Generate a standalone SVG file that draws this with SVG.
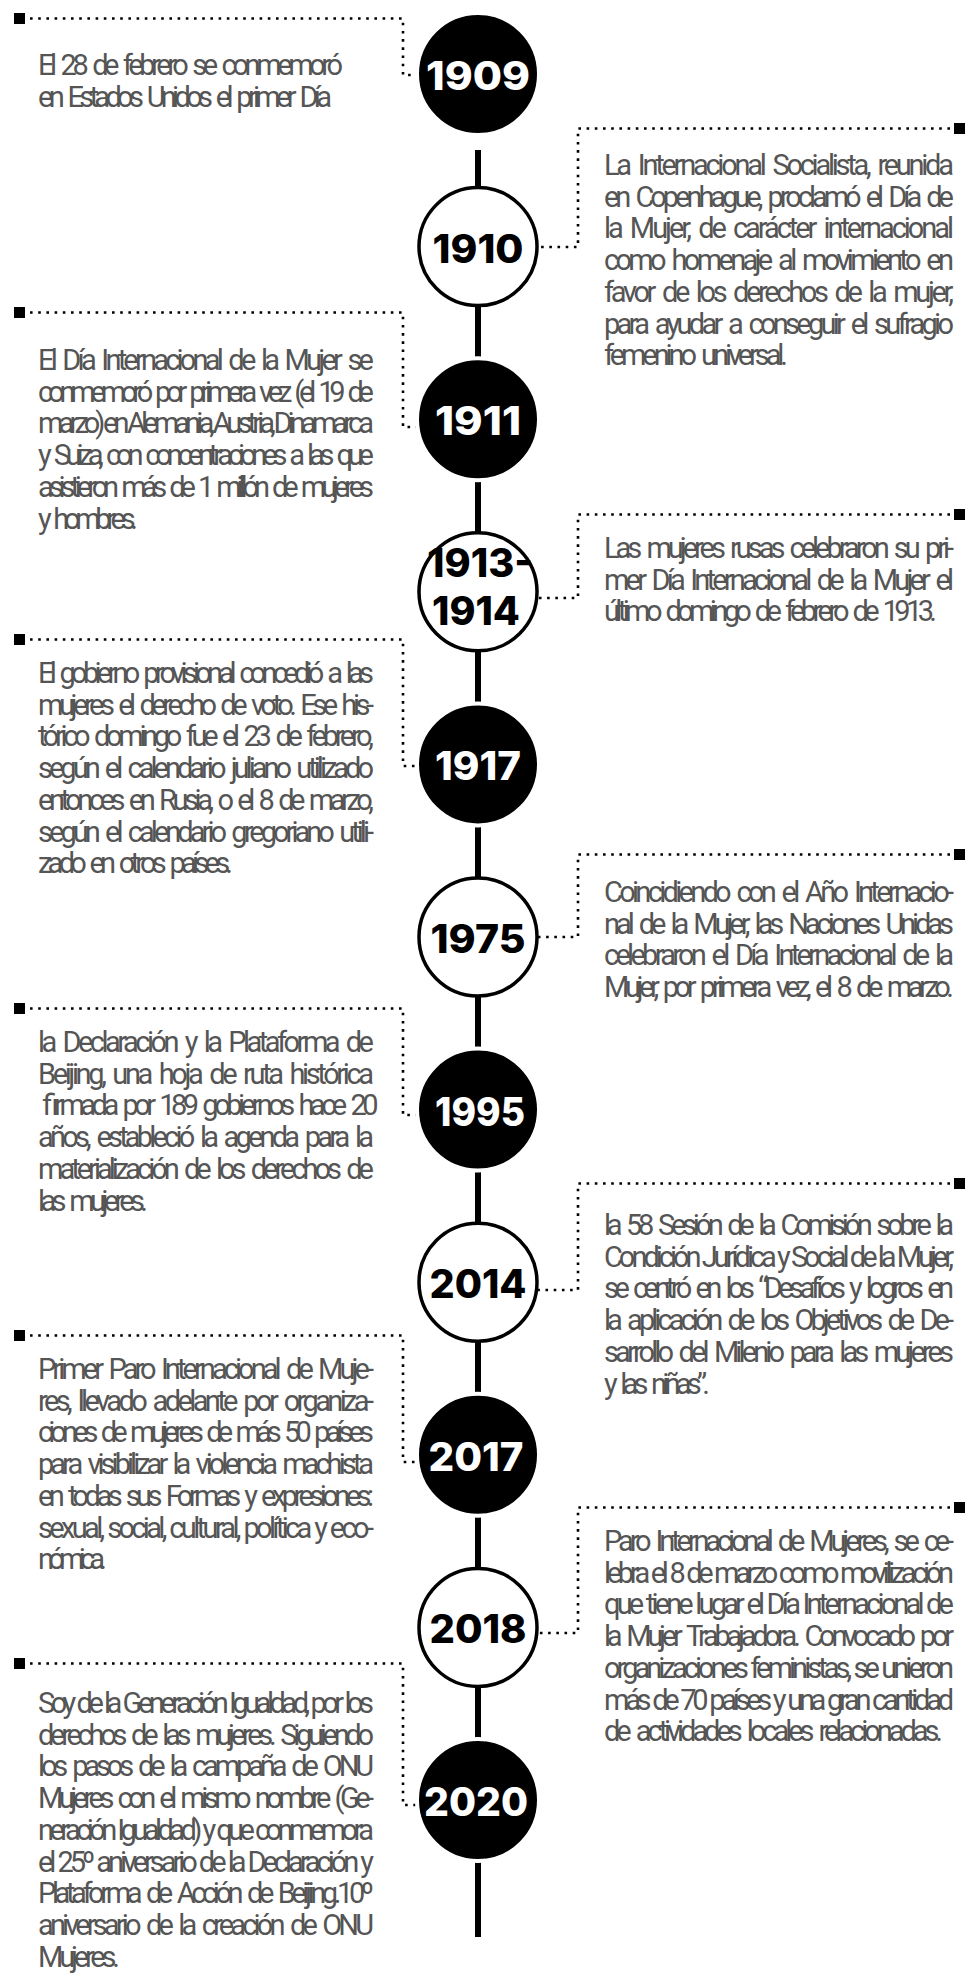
<svg xmlns="http://www.w3.org/2000/svg" width="965" height="1974" viewBox="0 0 965 1974">
<style>
  .bg{fill:#ffffff}
  .tl{stroke:#000;stroke-width:6;fill:none}
  .dot{stroke:#000;stroke-width:2.6;stroke-dasharray:2.6 5.6;fill:none}
  .sq{fill:#000}
  .cb{fill:#000;stroke:#fff;stroke-width:4}
  .cw{fill:#fff;stroke:#000;stroke-width:3.5}
  .yb{font-family:Inter,"Noto Sans","Liberation Sans",sans-serif;font-weight:800;font-size:39px;fill:#fff;text-anchor:middle}
  .yw{font-family:Inter,"Noto Sans","Liberation Sans",sans-serif;font-weight:800;font-size:39px;fill:#000;text-anchor:middle}
  .tx{font-family:Roboto,"Liberation Sans",sans-serif;font-weight:400;font-size:29px;word-spacing:5px;fill:#555}
</style>
<rect class="bg" x="0" y="0" width="965" height="1974"/>

<g id="connectors">
  <line class="tl" x1="478" y1="150" x2="478" y2="1742"/>
  <line class="tl" x1="478" y1="1862" x2="478" y2="1937"/>
  <rect class="sq" x="14" y="13" width="11" height="11"/>
  <path class="dot" d="M30,18.5 H403 V75 H419"/>
  <rect class="sq" x="14" y="307" width="11" height="11"/>
  <path class="dot" d="M30,312.5 H403 V427 H419"/>
  <rect class="sq" x="14" y="634" width="11" height="11"/>
  <path class="dot" d="M30,639.5 H403 V766 H419"/>
  <rect class="sq" x="14" y="1003" width="11" height="11"/>
  <path class="dot" d="M30,1008.5 H403 V1115 H419"/>
  <rect class="sq" x="14" y="1330" width="11" height="11"/>
  <path class="dot" d="M30,1335.5 H403 V1462 H419"/>
  <rect class="sq" x="14" y="1658" width="11" height="11"/>
  <path class="dot" d="M30,1663.5 H403 V1805 H419"/>
  <rect class="sq" x="954" y="123" width="11" height="11"/>
  <path class="dot" d="M950,128.5 H578 V247 H537"/>
  <rect class="sq" x="954" y="509" width="11" height="11"/>
  <path class="dot" d="M950,514.5 H578 V598 H537"/>
  <rect class="sq" x="954" y="849" width="11" height="11"/>
  <path class="dot" d="M950,854.5 H578 V937 H537"/>
  <rect class="sq" x="954" y="1178" width="11" height="11"/>
  <path class="dot" d="M950,1183.5 H578 V1290 H537"/>
  <rect class="sq" x="954" y="1502" width="11" height="11"/>
  <path class="dot" d="M950,1507.5 H578 V1633 H537"/>
</g>

<g id="node-1909">
  <circle class="cb" cx="478" cy="74" r="61"/>
  <text class="yb" x="478" y="90" textLength="104" lengthAdjust="spacingAndGlyphs">1909</text>
  <text class="tx" lengthAdjust="spacingAndGlyphs">
    <tspan x="38" y="75" textLength="305">El 28 de febrero se conmemoró</tspan>
    <tspan x="38" y="106.7" textLength="294">en Estados Unidos el primer Día</tspan>
  </text>
</g>

<g id="node-1910">
  <circle class="cw" cx="478" cy="246.6" r="59"/>
  <text class="yw" x="478" y="262.6" textLength="91" lengthAdjust="spacingAndGlyphs">1910</text>
  <text class="tx" lengthAdjust="spacingAndGlyphs">
    <tspan x="604" y="175" textLength="350">La Internacional Socialista, reunida</tspan>
    <tspan x="604" y="206.7" textLength="350">en Copenhague, proclamó el Día de</tspan>
    <tspan x="604" y="238.4" textLength="350">la Mujer, de carácter internacional</tspan>
    <tspan x="604" y="270.1" textLength="350">como homenaje al movimiento en</tspan>
    <tspan x="604" y="301.8" textLength="350">favor de los derechos de la mujer,</tspan>
    <tspan x="604" y="333.5" textLength="350">para ayudar a conseguir el sufragio</tspan>
    <tspan x="604" y="365.2" textLength="184">femenino universal.</tspan>
  </text>
</g>

<g id="node-1911">
  <circle class="cb" cx="478" cy="419.2" r="61"/>
  <text class="yb" x="478" y="435.2" textLength="86" lengthAdjust="spacingAndGlyphs">1911</text>
  <text class="tx" lengthAdjust="spacingAndGlyphs">
    <tspan x="38" y="370" textLength="336">El Día Internacional de la Mujer se</tspan>
    <tspan x="38" y="401.7" textLength="336">conmemoró por primera vez (el 19 de</tspan>
    <tspan x="38" y="433.4" textLength="336" style="word-spacing:0">marzo) en Alemania, Austria, Dinamarca</tspan>
    <tspan x="38" y="465.1" textLength="336">y Suiza, con concentraciones a las que</tspan>
    <tspan x="38" y="496.8" textLength="336">asistieron más de 1 millón de mujeres</tspan>
    <tspan x="38" y="528.5" textLength="100">y hombres.</tspan>
  </text>
</g>

<g id="node-1913-1914">
  <circle class="cw" cx="478" cy="591.8" r="59"/>
  <text class="yw" x="480" y="577" textLength="106" lengthAdjust="spacingAndGlyphs">1913-</text>
  <text class="yw" x="476" y="625" textLength="88" lengthAdjust="spacingAndGlyphs">1914</text>
  <text class="tx" lengthAdjust="spacingAndGlyphs">
    <tspan x="604" y="558" textLength="350">Las mujeres rusas celebraron su pri-</tspan>
    <tspan x="604" y="589.7" textLength="350">mer Día Internacional de la Mujer el</tspan>
    <tspan x="604" y="621.4" textLength="333">último domingo de febrero de 1913.</tspan>
  </text>
</g>

<g id="node-1917">
  <circle class="cb" cx="478" cy="764.4" r="61"/>
  <text class="yb" x="478" y="780.4" textLength="86" lengthAdjust="spacingAndGlyphs">1917</text>
  <text class="tx" lengthAdjust="spacingAndGlyphs">
    <tspan x="38" y="683" textLength="336">El gobierno provisional concedió a las</tspan>
    <tspan x="38" y="714.7" textLength="336">mujeres el derecho de voto. Ese his-</tspan>
    <tspan x="38" y="746.4" textLength="336">tórico domingo fue el 23 de febrero,</tspan>
    <tspan x="38" y="778.1" textLength="336">según el calendario juliano utilizado</tspan>
    <tspan x="38" y="809.8" textLength="336">entonces en Rusia, o el 8 de marzo,</tspan>
    <tspan x="38" y="841.5" textLength="336">según el calendario gregoriano utili-</tspan>
    <tspan x="38" y="873.2" textLength="195">zado en otros países.</tspan>
  </text>
</g>

<g id="node-1975">
  <circle class="cw" cx="478" cy="937" r="59"/>
  <text class="yw" x="478" y="953" textLength="95" lengthAdjust="spacingAndGlyphs">1975</text>
  <text class="tx" lengthAdjust="spacingAndGlyphs">
    <tspan x="604" y="902" textLength="350">Coincidiendo con el Año Internacio-</tspan>
    <tspan x="604" y="933.7" textLength="350">nal de la Mujer, las Naciones Unidas</tspan>
    <tspan x="604" y="965.4" textLength="350">celebraron el Día Internacional de la</tspan>
    <tspan x="604" y="997.1" textLength="350">Mujer, por primera vez, el 8 de marzo.</tspan>
  </text>
</g>

<g id="node-1995">
  <circle class="cb" cx="478" cy="1109.6" r="61"/>
  <text class="yb" x="480" y="1125.6" textLength="90" lengthAdjust="spacingAndGlyphs">1995</text>
  <text class="tx" lengthAdjust="spacingAndGlyphs">
    <tspan x="38" y="1052" textLength="336">la Declaración y la Plataforma de</tspan>
    <tspan x="38" y="1083.7" textLength="336">Beijing, una hoja de ruta histórica</tspan>
    <tspan x="38" y="1115.4" textLength="336">firmada por 189 gobiernos hace 20</tspan>
    <tspan x="38" y="1147.1" textLength="336">años, estableció la agenda para la</tspan>
    <tspan x="38" y="1178.8" textLength="336">materialización de los derechos de</tspan>
    <tspan x="38" y="1210.5" textLength="110">las mujeres.</tspan>
  </text>
</g>

<g id="node-2014">
  <circle class="cw" cx="478" cy="1282.2" r="59"/>
  <text class="yw" x="478" y="1298.2" textLength="97" lengthAdjust="spacingAndGlyphs">2014</text>
  <text class="tx" lengthAdjust="spacingAndGlyphs">
    <tspan x="604" y="1235" textLength="350">la 58 Sesión de la Comisión sobre la</tspan>
    <tspan x="604" y="1266.7" textLength="350" style="word-spacing:1px">Condición Jurídica y Social de la Mujer,</tspan>
    <tspan x="604" y="1298.4" textLength="350">se centró en los “Desafíos y logros en</tspan>
    <tspan x="604" y="1330.1" textLength="350">la aplicación de los Objetivos de De-</tspan>
    <tspan x="604" y="1361.8" textLength="350">sarrollo del Milenio para las mujeres</tspan>
    <tspan x="604" y="1393.5" textLength="106">y las niñas”.</tspan>
  </text>
</g>

<g id="node-2017">
  <circle class="cb" cx="478" cy="1454.8" r="61"/>
  <text class="yb" x="476" y="1470.8" textLength="95" lengthAdjust="spacingAndGlyphs">2017</text>
  <text class="tx" lengthAdjust="spacingAndGlyphs">
    <tspan x="38" y="1379" textLength="336">Primer Paro Internacional de Muje-</tspan>
    <tspan x="38" y="1410.7" textLength="336">res, llevado adelante por organiza-</tspan>
    <tspan x="38" y="1442.4" textLength="336">ciones de mujeres de más 50 países</tspan>
    <tspan x="38" y="1474.1" textLength="336">para visibilizar la violencia machista</tspan>
    <tspan x="38" y="1505.8" textLength="336">en todas sus Formas y expresiones:</tspan>
    <tspan x="38" y="1537.5" textLength="336" style="word-spacing:2px">sexual, social, cultural, política y eco-</tspan>
    <tspan x="38" y="1569.2" textLength="69">nómica.</tspan>
  </text>
</g>

<g id="node-2018">
  <circle class="cw" cx="478" cy="1627.4" r="59"/>
  <text class="yw" x="478" y="1643.4" textLength="97" lengthAdjust="spacingAndGlyphs">2018</text>
  <text class="tx" lengthAdjust="spacingAndGlyphs">
    <tspan x="604" y="1551" textLength="350">Paro Internacional de Mujeres, se ce-</tspan>
    <tspan x="604" y="1582.7" textLength="350" style="word-spacing:2px">lebra el 8 de marzo como movilización</tspan>
    <tspan x="604" y="1614.4" textLength="350" style="word-spacing:2px">que tiene lugar el Día Internacional de</tspan>
    <tspan x="604" y="1646.1" textLength="350">la Mujer Trabajadora. Convocado por</tspan>
    <tspan x="604" y="1677.8" textLength="350" style="word-spacing:2px">organizaciones feministas, se unieron</tspan>
    <tspan x="604" y="1709.5" textLength="350" style="word-spacing:2px">más de 70 países y una gran cantidad</tspan>
    <tspan x="604" y="1741.2" textLength="339">de actividades locales relacionadas.</tspan>
  </text>
</g>

<g id="node-2020">
  <circle class="cb" cx="478" cy="1800" r="61"/>
  <text class="yb" x="476" y="1816" textLength="104" lengthAdjust="spacingAndGlyphs">2020</text>
  <text class="tx" lengthAdjust="spacingAndGlyphs">
    <tspan x="38" y="1713" textLength="336" style="word-spacing:2px">Soy de la Generación Igualdad, por los</tspan>
    <tspan x="38" y="1744.7" textLength="336">derechos de las mujeres. Siguiendo</tspan>
    <tspan x="38" y="1776.4" textLength="336">los pasos de la campaña de ONU</tspan>
    <tspan x="38" y="1808.1" textLength="336">Mujeres con el mismo nombre (Ge-</tspan>
    <tspan x="38" y="1839.8" textLength="336" style="word-spacing:2px">neración Igualdad) y que conmemora</tspan>
    <tspan x="38" y="1871.5" textLength="336" style="word-spacing:2px">el 25º aniversario de la Declaración y</tspan>
    <tspan x="38" y="1903.2" textLength="336">Plataforma de Acción de Beijing.10º</tspan>
    <tspan x="38" y="1934.9" textLength="336">aniversario de la creación de ONU</tspan>
    <tspan x="38" y="1966.6" textLength="82">Mujeres.</tspan>
  </text>
</g>
</svg>
